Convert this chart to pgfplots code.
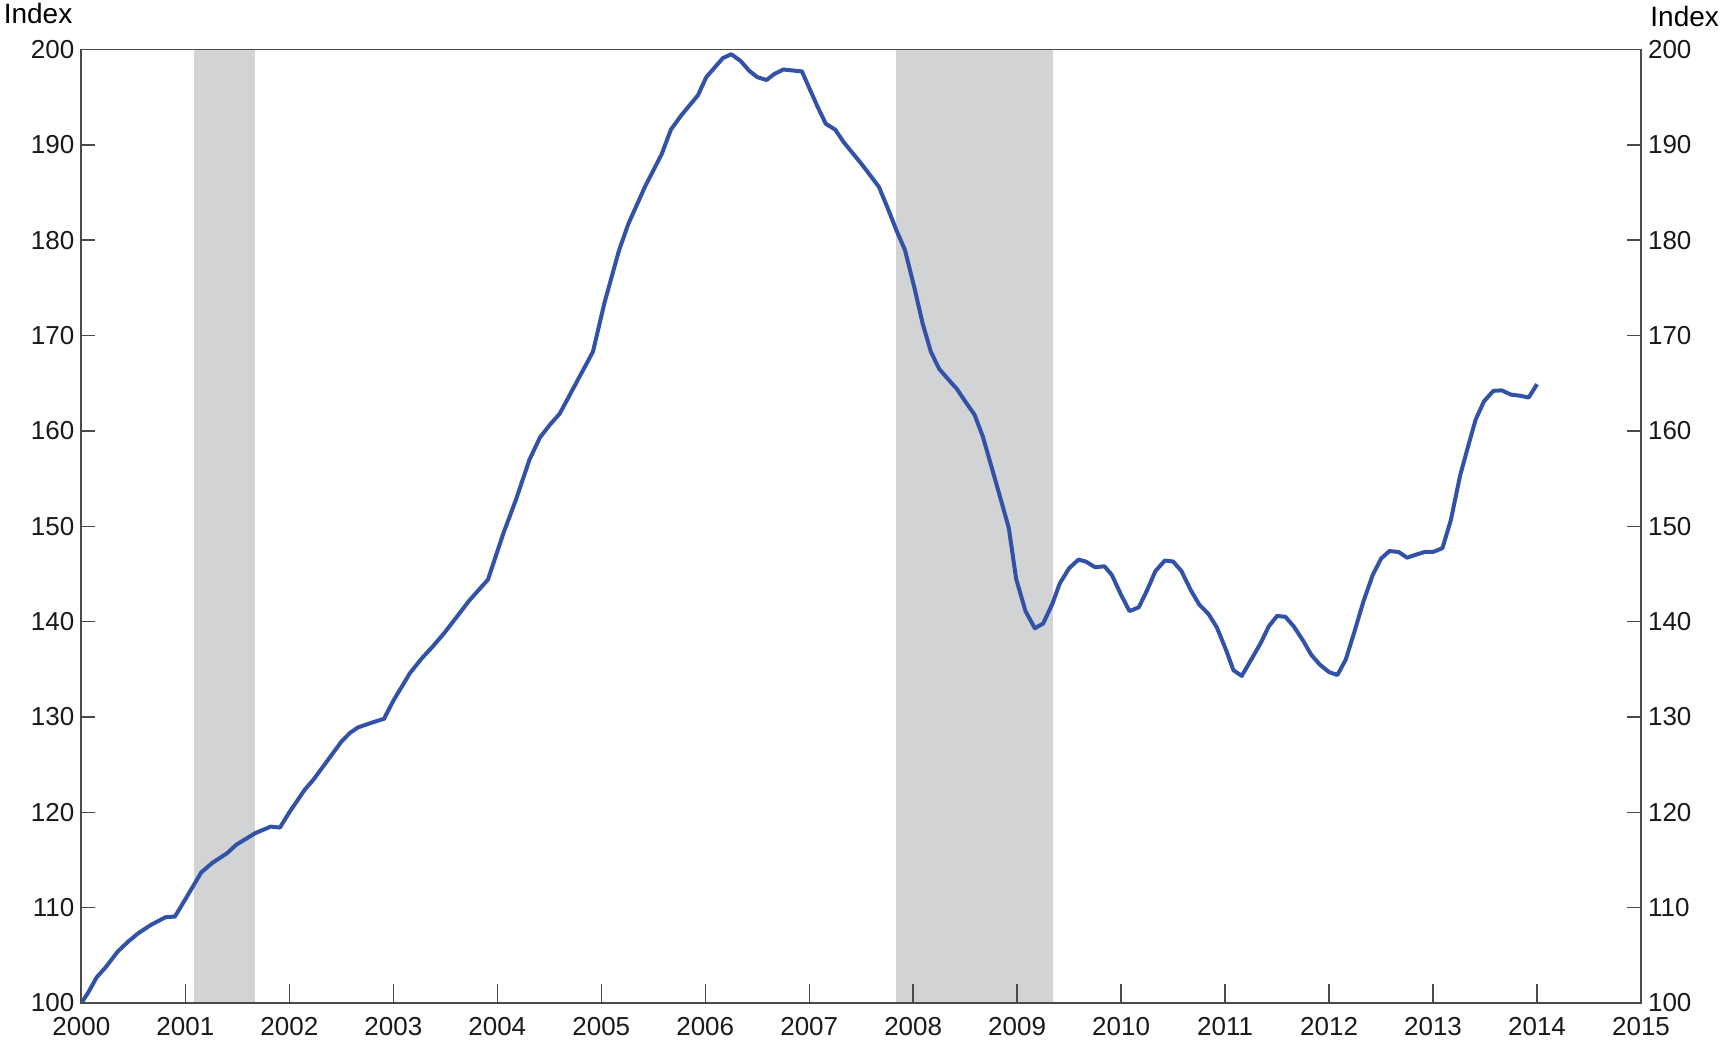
\documentclass[border=0pt]{standalone}
\usepackage{pgfplots}
\pgfplotsset{compat=1.18}
\usepackage{fontspec}
\setmainfont{Liberation Sans}
\definecolor{lineblue}{HTML}{3152A6}
\definecolor{recgray}{HTML}{D1D3D5}
\definecolor{axgray}{HTML}{4A4A4A}
\pgfplotstableread{
x y
2000.00 100.0
2000.066 101.1
2000.147 102.7
2000.23 103.7
2000.35 105.4
2000.446 106.4
2000.545 107.3
2000.67 108.2
2000.81 109.0
2000.90 109.07
2000.99 110.7
2001.153 113.7
2001.26 114.7
2001.40 115.7
2001.49 116.6
2001.67 117.8
2001.82 118.5
2001.91 118.4
2002.00 120.0
2002.15 122.4
2002.23 123.4
2002.50 127.4
2002.58 128.3
2002.66 128.9
2002.82 129.5
2002.91 129.8
2003.00 131.7
2003.16 134.6
2003.27 136.1
2003.38 137.4
2003.49 138.8
2003.66 141.2
2003.73 142.2
2003.91 144.4
2004.06 149.3
2004.18 152.8
2004.31 157.0
2004.41 159.3
2004.51 160.7
2004.60 161.8
2004.92 168.3
2005.03 173.4
2005.17 178.9
2005.26 181.7
2005.42 185.6
2005.58 189.0
2005.67 191.6
2005.77 193.1
2005.93 195.2
2006.01 197.1
2006.17 199.1
2006.25 199.5
2006.34 198.8
2006.42 197.8
2006.50 197.1
2006.59 196.8
2006.66 197.4
2006.75 197.9
2006.93 197.7
2007.08 194.0
2007.16 192.2
2007.25 191.6
2007.33 190.3
2007.51 187.9
2007.67 185.6
2007.75 183.5
2007.84 181.0
2007.92 179.0
2008.01 175.1
2008.09 171.3
2008.17 168.3
2008.25 166.5
2008.33 165.5
2008.42 164.4
2008.50 163.1
2008.59 161.7
2008.67 159.4
2008.77 155.6
2008.84 152.9
2008.92 149.8
2008.99 144.5
2009.08 141.1
2009.17 139.3
2009.25 139.8
2009.34 141.9
2009.41 144.0
2009.50 145.6
2009.59 146.5
2009.66 146.3
2009.75 145.7
2009.84 145.8
2009.91 144.9
2010.00 142.8
2010.08 141.1
2010.17 141.5
2010.25 143.3
2010.33 145.3
2010.42 146.4
2010.50 146.3
2010.58 145.3
2010.67 143.3
2010.75 141.8
2010.84 140.8
2010.92 139.4
2011.01 137.0
2011.08 134.9
2011.16 134.3
2011.25 136.0
2011.34 137.7
2011.42 139.5
2011.50 140.6
2011.58 140.5
2011.66 139.5
2011.75 138.0
2011.83 136.5
2011.91 135.5
2012.00 134.7
2012.08 134.4
2012.16 136.0
2012.24 138.8
2012.33 142.1
2012.42 144.9
2012.50 146.6
2012.58 147.4
2012.67 147.3
2012.75 146.7
2012.83 147.0
2012.92 147.3
2013.00 147.3
2013.09 147.7
2013.17 150.6
2013.26 155.3
2013.34 158.5
2013.41 161.2
2013.49 163.1
2013.58 164.2
2013.66 164.25
2013.75 163.8
2013.83 163.7
2013.92 163.5
2014.00 164.9
}\hpi
\begin{document}
\begin{tikzpicture}
\pgfplotsset{
  common/.style={
    at={(0pt,0pt)}, anchor=south west,
    scale only axis, width=779.8pt, height=476.75pt,
    xmin=2000, xmax=2015, ymin=100, ymax=200,
    ytick={100,110,...,200},
    tick align=inside,
    /pgf/number format/assume math mode=true,
    ticklabel style={font=\fontsize{13}{15}\selectfont, text=black!90},
    axis line style={draw=axgray, line width=0.9pt},
    every tick/.style={draw=axgray, line width=0.7pt},
  }
}
% main axis: shading, line, x ticks, frame
\begin{axis}[common,
  axis on top,
  xtick={2000,2001,...,2015},
  xticklabel style={/pgf/number format/1000 sep={}, yshift=-3.6pt},
  xtick pos=bottom,
  major tick length=9.3pt,
  ytick=\empty,
]
\addplot[draw=none, fill=recgray] coordinates {(2001.08,200) (2001.67,200)} \closedcycle;
\addplot[draw=none, fill=recgray] coordinates {(2007.83,200) (2009.34,200)} \closedcycle;
\addplot[lineblue, line width=2pt, line join=round, mark=none] table[x=x,y=y] {\hpi};
\end{axis}
% left y labels and ticks on both sides
\begin{axis}[common,
  axis on top,
  hide x axis,
  ytick pos=both,
  yticklabel pos=left,
  major tick length=7pt,
  axis line style={draw=none},
]
\end{axis}
% right y labels
\begin{axis}[common,
  hide x axis,
  ytick pos=right,
  yticklabel pos=right,
  major tick length=0pt,
  axis line style={draw=none},
]
\end{axis}
\node[anchor=base west, font=\fontsize{14}{16}\selectfont, inner sep=0pt] at (-39pt,489.9pt) {Index};
\node[anchor=base west, font=\fontsize{14}{16}\selectfont, inner sep=0pt] at (784.3pt,488.4pt) {Index};
\path[use as bounding box] (-40.7pt,-20.5pt) rectangle (821.8pt,501.5pt);
\end{tikzpicture}
\end{document}
